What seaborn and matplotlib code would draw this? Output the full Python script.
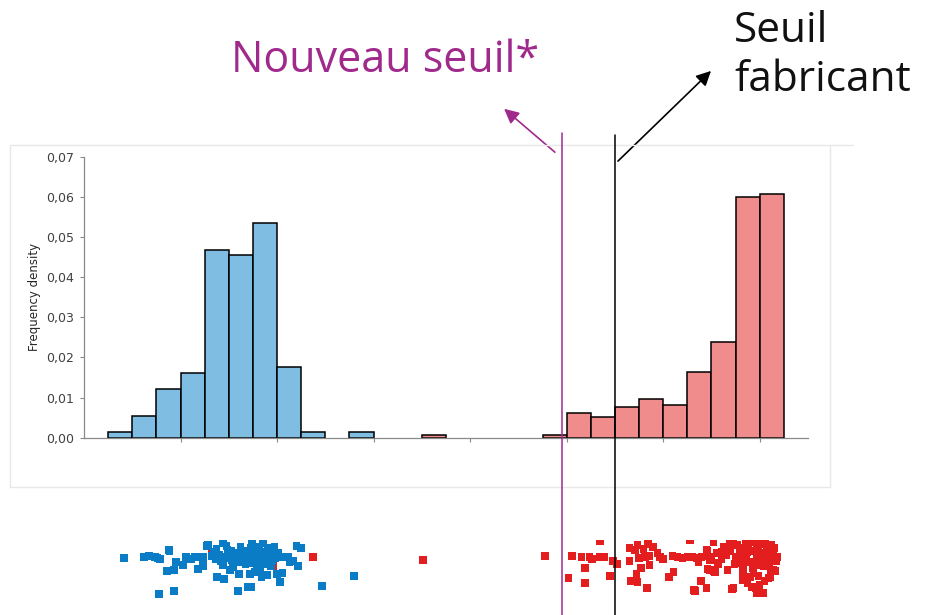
import numpy as np
import pandas as pd
import matplotlib
matplotlib.use("Agg")
import matplotlib.pyplot as plt
import matplotlib.transforms as mtransforms
from matplotlib.lines import Line2D
from matplotlib.ticker import FuncFormatter
import seaborn as sns

# histogram: bin index -> frequency density
blue_bins = [1, 2, 3, 4, 5, 6, 7, 8, 9, 11]
blue_density = [0.0013, 0.0055, 0.0121, 0.0161, 0.0468, 0.0454, 0.0535, 0.0175, 0.0013, 0.0013]
red_bins = [14, 19, 20, 21, 22, 23, 24, 25, 26, 27, 28]
red_density = [0.0007, 0.0007, 0.0061, 0.0052, 0.0076, 0.0097, 0.0082, 0.0163, 0.0239, 0.0599, 0.0606]

# individual results (position on the same scale, vertical spread)
blue_points = [
    (1.66, -0.05), (2.49, 0.00), (2.69, 0.05), (2.94, 0.00), (3.03, -0.05), (3.15, -0.10),
    (3.52, 0.35), (3.54, 0.30), (3.81, -0.25), (3.44, -0.70), (3.73, -0.65), (4.10, -0.40),
    (4.23, 0.00), (4.43, -0.10), (4.60, 0.00), (4.72, -0.60), (4.93, -0.45), (4.93, 0.00),
    (5.14, 0.60), (3.11, -1.85), (3.73, -1.70), (5.51, -1.00), (5.80, -1.10),
    (6.38, -1.70), (6.76, -1.50), (6.92, -1.50), (6.42, -0.85), (6.88, -0.85),
    (8.12, -1.25), (9.86, -1.45), (11.19, -0.95), (8.79, 0.55), (8.99, 0.45),
    (8.50, -0.25), (8.66, -0.20), (8.87, -0.45), (6.47, 0.50), (5.76, 0.70),
    (6.96, 0.70), (7.42, 0.70), (7.83, 0.35), (7.09, 0.35), (7.58, -0.90),
    (8.00, -0.85), (8.21, -0.80), (7.29, -0.65), (7.17, -0.55), (6.17, -0.50),
    (5.76, -0.40), (5.10, 0.55), (4.93, -0.35),
    (5.30, 0.05), (5.45, -0.10), (5.60, 0.10), (5.75, 0.00), (5.90, -0.05), (6.00, 0.15),
    (6.10, -0.15), (6.25, 0.00), (6.40, 0.05), (6.55, -0.10), (6.65, 0.10), (6.80, 0.00),
    (6.95, -0.05), (7.05, 0.20), (7.20, 0.00), (7.30, -0.20), (7.40, 0.10), (7.50, 0.00),
    (7.60, -0.10), (7.70, 0.15), (7.85, 0.00), (7.95, -0.05), (8.10, 0.00), (8.30, 0.00),
    (8.45, 0.00), (5.50, 0.40), (5.90, 0.55), (6.10, 0.30), (6.60, 0.30), (6.90, 0.45),
    (7.25, 0.50), (7.60, 0.45), (7.90, 0.50), (6.20, -0.30), (6.70, -0.35), (7.00, -0.30),
    (7.45, -0.35), (7.75, -0.45), (6.05, -0.65), (7.35, -1.00), (7.05, -0.75),
    (5.35, 0.25), (5.65, -0.20), (6.30, 0.20), (6.85, 0.20), (7.15, 0.10), (7.55, 0.25),
    (7.80, -0.20), (8.05, 0.20), (6.50, -0.25), (5.95, 0.35),
]
red_points = [
    (5.30, 0.20), (7.83, -0.45), (9.49, 0.00), (14.05, -0.15),
    (19.10, 0.05), (20.06, -1.05), (20.22, 0.05), (20.60, 0.00), (20.93, 0.00), (21.05, -0.10),
    (21.38, 0.00), (21.55, 0.00), (20.76, -0.55), (20.76, -1.30), (21.38, 0.80),
    (21.80, -0.95), (21.92, -0.20), (22.09, -0.35),
    (22.59, 0.45), (22.83, 0.35), (22.92, 0.60), (23.17, 0.40), (23.37, 0.65), (23.58, 0.50),
    (23.75, 0.20), (22.59, -0.20), (23.00, -0.05), (23.25, 0.00), (23.42, 0.05), (23.87, 0.00),
    (23.99, -0.10), (23.08, -0.55), (23.42, -0.40), (22.88, -0.85), (22.67, -1.20),
    (22.92, -1.25), (23.33, -1.55), (24.37, 0.05),
    (24.60, 0.00), (24.80, -0.05), (25.00, 0.00), (25.20, 0.00), (25.40, -0.05), (25.60, 0.00),
    (25.80, 0.05), (26.00, 0.00), (24.42, -0.75), (24.24, -1.00), (25.11, 0.85),
    (25.28, -1.65), (25.57, -1.20), (25.78, -1.55), (25.82, 0.30), (25.94, -0.15), (26.07, 0.75),
    (25.82, -0.60), (26.07, -0.70), (26.44, 0.25), (26.65, -0.65), (26.85, -1.60),
    (26.77, 0.70), (27.06, 0.60), (27.27, 0.45), (27.48, 0.35), (27.89, -1.80), (28.14, -1.80),
    (27.72, -1.50), (28.55, -0.65), (28.43, -1.00), (28.72, 0.00), (27.27, -1.15), (27.60, -1.00),
    (25.45, -0.25), (25.78, 0.35), (26.27, -0.35), (25.94, -0.65), (26.15, -0.75),
    (26.90, -1.55), (25.24, -1.65), (25.32, -1.70), (27.31, -0.90), (27.68, -1.50),
    (27.81, -1.55), (28.01, -1.80), (28.35, -1.05), (28.43, -0.75), (28.64, -0.70),
    (28.43, 0.50), (28.14, 0.75), (27.89, 0.70), (26.90, 0.70), (26.77, 0.75), (27.19, 0.45),
    (27.48, 0.25), (27.89, 0.10), (28.35, 0.00), (28.55, 0.20), (27.60, -0.25), (28.01, -0.30),
    (27.10, -0.05), (27.31, -0.50), (27.72, -0.55),
    (26.20, 0.20), (26.40, -0.10), (26.60, 0.10), (26.80, 0.30), (27.00, 0.00), (27.15, 0.25),
    (27.30, 0.10), (27.45, -0.15), (27.55, 0.55), (27.70, 0.30), (27.85, -0.05), (27.95, 0.45),
    (28.05, 0.20), (28.20, -0.10), (28.30, 0.35), (28.45, 0.15), (28.60, 0.45), (28.70, -0.20),
    (27.40, 0.70), (27.65, 0.75), (28.25, 0.65), (28.50, 0.60), (26.95, -0.35), (27.20, -0.30),
    (27.90, -0.40), (28.15, -0.45), (28.40, -0.35), (28.60, -0.10), (26.50, 0.50), (26.30, -0.30),
    (27.75, -0.80), (27.95, -0.95), (28.20, -1.20), (27.50, -1.30), (28.00, -1.40),
]

nouveau_seuil = 19.8
seuil_fabricant = 22.0

BLUE_FILL = "#7fbee2"
RED_FILL = "#f18c8c"
BLUE_PT = "#0a7cc6"
RED_PT = "#e41e1e"
PURPLE = "#a02a8c"

sns.set_theme(style="white")
plt.rcParams["font.family"] = ["DejaVu Sans"]

W, H = 933, 615
fig = plt.figure(figsize=(W / 100, H / 100), dpi=100)
fig.patch.set_facecolor("white")

ax = fig.add_axes([84 / W, 1 - 437.7 / H, 724 / W, 281 / H])
ax2 = fig.add_axes([84 / W, 0, 724 / W, 75 / H])

hist_df = pd.DataFrame({
    "centre": [b + 0.5 for b in blue_bins] + [b + 0.5 for b in red_bins],
    "density": blue_density + red_density,
    "group": ["bleu"] * len(blue_bins) + ["rouge"] * len(red_bins),
})

sns.histplot(data=hist_df[hist_df.group == "rouge"], x="centre", weights="density",
             binwidth=1, binrange=(0, 30), color=RED_FILL, alpha=1,
             edgecolor="black", linewidth=1.1, ax=ax)
sns.histplot(data=hist_df[hist_df.group == "bleu"], x="centre", weights="density",
             binwidth=1, binrange=(0, 30), color=BLUE_FILL, alpha=1,
             edgecolor="black", linewidth=1.1, ax=ax)
for p in ax.patches:
    if p.get_height() == 0:
        p.set_visible(False)

ax.set_xlim(0, 30)
ax.set_ylim(0, 0.07)
ax.set_yticks(np.arange(0, 0.071, 0.01))
ax.yaxis.set_major_formatter(FuncFormatter(lambda v, _: f"{v:.2f}".replace(".", ",")))
ax.set_xticks(range(4, 30, 4))
ax.set_xticklabels([])
ax.set_xlabel("")
ax.set_ylabel("Frequency density", fontsize=8.5, color="#262626")
ax.yaxis.set_label_coords(-0.059, 0.5)
ax.tick_params(axis="both", direction="out", length=3, width=0.8, color="#898989",
               labelsize=9, labelcolor="#404040", pad=4, left=True, bottom=True)
sns.despine(ax=ax)
for s in ("left", "bottom"):
    ax.spines[s].set_color("#898989")
    ax.spines[s].set_linewidth(0.9)
ax.set_facecolor("none")

pts = pd.DataFrame(red_points + blue_points, columns=["x", "y"])
pts["group"] = ["rouge"] * len(red_points) + ["bleu"] * len(blue_points)
sns.scatterplot(data=pts, x="x", y="y", hue="group",
                palette={"bleu": BLUE_PT, "rouge": RED_PT},
                marker="s", s=27, linewidth=0, legend=False, ax=ax2)
ax2.set_xlim(0, 30)
ax2.set_ylim(-2.9, 0.85)
ax2.axis("off")

# chart frame lines
frame = "#e8e8e8"
for (x0, y0, x1, y1) in [(10, 145, 853, 145), (10, 145, 10, 487), (830, 145, 830, 487), (10, 487, 830, 487)]:
    fig.add_artist(Line2D([x0 / W, x1 / W], [1 - y0 / H, 1 - y1 / H], color=frame, lw=1,
                          transform=fig.transFigure))

# threshold lines across both panels
trans = mtransforms.blended_transform_factory(ax.transData, fig.transFigure)
fig.add_artist(Line2D([nouveau_seuil, nouveau_seuil], [1 - 133 / H, 0], color=PURPLE, lw=1.1,
                      transform=trans))
fig.add_artist(Line2D([seuil_fabricant, seuil_fabricant], [1 - 135 / H, 0], color="black", lw=1.1,
                      transform=trans))

# annotations
fig.text(231 / W, 1 - 72 / H, "Nouveau seuil*", color=PURPLE, fontsize=31,
         family=["Open Sans", "DejaVu Sans"], va="baseline", ha="left")
fig.text(734 / W, 1 - 42 / H, "Seuil", color="#111111", fontsize=30.5,
         family=["Open Sans", "DejaVu Sans"], va="baseline", ha="left")
fig.text(734 / W, 1 - 91 / H, "fabricant", color="#111111", fontsize=30.5,
         family=["Open Sans", "DejaVu Sans"], va="baseline", ha="left")

fig.add_artist(matplotlib.patches.FancyArrowPatch(
    (557 / W, 1 - 154 / H), (502 / W, 1 - 107 / H), transform=fig.transFigure,
    arrowstyle="-|>", mutation_scale=22, color=PURPLE, lw=1.2))
fig.add_artist(matplotlib.patches.FancyArrowPatch(
    (616 / W, 1 - 163 / H), (713 / W, 1 - 69 / H), transform=fig.transFigure,
    arrowstyle="-|>", mutation_scale=22, color="black", lw=1.2))

fig.savefig("out.png", dpi=100, facecolor="white")
